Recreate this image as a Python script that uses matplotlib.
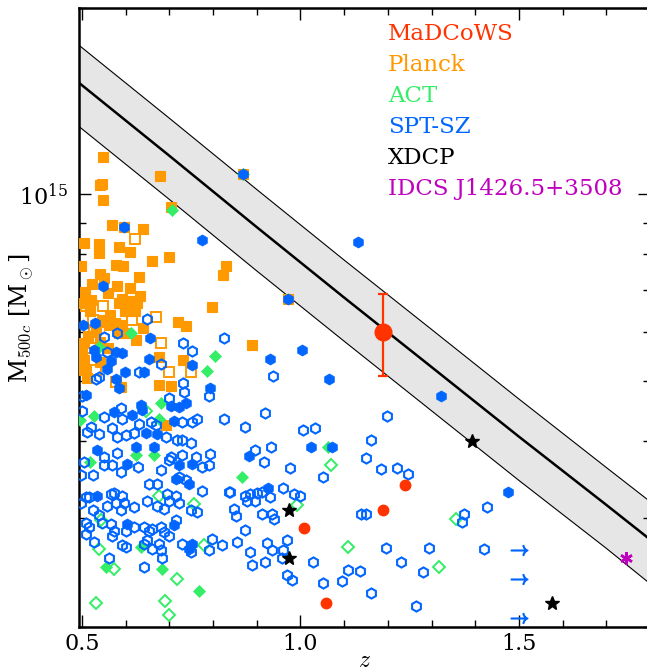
import matplotlib
matplotlib.use("Agg")
import matplotlib.pyplot as plt
from matplotlib.ticker import MultipleLocator, FormatStrFormatter, NullFormatter

plt.rcParams["font.family"] = "DejaVu Serif"
plt.rcParams["mathtext.fontset"] = "cm"

# model curve (most massive expected cluster) and its band, M in 1e14 Msun
model_z = [0.49, 0.7, 0.9, 1.1, 1.3, 1.5, 1.7, 1.8]
model_m = [15.20, 11.54, 8.85, 6.81, 5.26, 4.06, 3.15, 2.77]
model_hi = [17.48, 13.27, 10.18, 7.83, 6.05, 4.67, 3.62, 3.19]
model_lo = [12.92, 9.81, 7.52, 5.79, 4.47, 3.45, 2.68, 2.35]

# Planck (filled / open squares)
planck_z = [0.547, 0.678, 0.545, 0.541, 0.547, 0.703, 0.568, 0.640, 0.505, 0.539,
            0.539, 0.585, 0.610, 0.661, 0.700, 0.577, 0.594, 0.497, 0.829, 0.822,
            0.541, 0.550, 0.631, 0.579, 0.523, 0.507, 0.610, 0.560, 0.633, 0.591,
            0.608, 0.520, 0.505, 0.798, 0.598, 0.621, 0.564, 0.518, 0.557, 0.576,
            0.640, 0.720, 0.738, 0.585, 0.626, 0.550, 0.562, 0.592, 0.585, 0.601,
            0.623, 0.505, 0.501, 0.676, 0.731, 0.505, 0.675, 0.703, 0.589, 0.692,
            0.888, 0.972, 0.596, 0.869, 0.514, 0.532, 0.541, 0.505, 0.511, 0.541,
            0.559]
planck_m = [11.5, 10.7, 10.4, 10.35, 9.79, 9.53, 8.92, 8.80, 8.35, 8.30,
            8.04, 8.22, 8.07, 7.80, 7.91, 7.68, 7.65, 7.65, 7.67, 7.42,
            7.44, 7.33, 7.35, 7.10, 7.17, 6.95, 7.05, 6.93, 6.86, 6.78,
            6.73, 6.76, 6.67, 6.57, 6.47, 6.47, 6.39, 6.47, 6.23, 6.19,
            6.08, 6.23, 6.13, 6.67, 6.67, 6.27, 6.15, 6.16, 5.97, 5.97,
            5.82, 5.75, 5.61, 5.47, 5.40, 5.20, 4.92, 4.90, 4.89, 4.24,
            5.71, 6.78, 8.85, 10.77, 5.90, 6.04, 5.78, 5.40, 5.05, 5.36,
            5.65]
planck_open_z = [0.621, 0.549, 0.614, 0.669, 0.680, 0.520, 0.699, 0.749, 0.531, 0.524,
                 0.527, 0.577, 0.508]
planck_open_m = [8.48, 6.61, 6.26, 6.34, 5.75, 5.64, 5.17, 5.17, 5.20, 6.27,
                 5.99, 4.98, 6.60]

# ACT (filled / open diamonds)
act_z = [0.705, 0.869, 0.611, 0.804, 0.787, 0.539, 0.680, 0.527, 0.676, 0.623,
         0.665, 0.865, 0.634, 0.554, 0.684, 0.768, 1.064, 0.495, 0.518]
act_m = [9.42, 10.77, 5.97, 5.49, 5.19, 5.67, 4.60, 4.39, 4.34, 3.79,
         3.79, 3.50, 2.69, 2.50, 2.48, 2.29, 3.90, 4.32, 3.70]
act_open_z = [0.646, 0.543, 0.539, 0.573, 0.718, 0.531, 0.690, 0.699, 0.676, 0.756,
              0.779, 0.991, 1.069, 1.109, 1.357, 1.318]
act_open_m = [4.46, 2.98, 2.67, 2.48, 2.39, 2.19, 2.20, 2.09, 3.26, 3.16,
              2.71, 3.15, 3.66, 2.69, 2.99, 2.50]

# SPT-SZ (filled / open hexagons)
spt_z = [0.596, 0.774, 1.131, 0.869, 0.972, 0.549, 0.502, 0.530, 0.656, 0.527,
         0.531, 0.577, 0.592, 0.566, 0.653, 0.752, 0.558, 0.598, 0.642, 0.577,
         0.585, 0.792, 0.703, 0.722, 0.737, 0.634, 0.638, 0.573, 0.615, 0.711,
         0.672, 0.646, 0.623, 0.665, 0.535, 0.604, 0.722, 0.752, 0.714, 0.745,
         0.535, 0.604, 0.711, 0.745, 0.930, 1.003, 1.066, 1.025, 1.073, 0.881,
         0.926, 1.321, 1.476, 0.751, 0.508]
spt_m = [8.85, 8.44, 8.36, 10.77, 6.78, 7.12, 6.16, 6.20, 5.87, 5.61,
         5.47, 5.57, 5.54, 5.37, 5.41, 5.30, 5.23, 5.17, 5.17, 5.04,
         4.86, 4.87, 4.55, 4.53, 4.61, 4.57, 4.48, 4.45, 4.40, 4.30,
         4.10, 4.12, 3.90, 3.91, 3.86, 3.67, 3.65, 3.67, 3.47, 3.41,
         3.26, 2.93, 2.92, 2.67, 5.42, 5.60, 5.04, 3.90, 3.91, 3.78,
         3.35, 4.72, 3.31, 2.72, 4.74]
spt_open_z = [0.648, 0.550, 0.581, 0.732, 0.751, 0.825, 0.558, 0.680, 0.630, 0.531,
              0.539, 0.731, 0.733, 0.791, 0.825, 0.699, 0.589, 0.591, 0.550, 0.501,
              0.501, 0.729, 0.752, 0.764, 0.630, 0.657, 0.669, 0.692, 0.600, 0.619,
              0.569, 0.581, 0.520, 0.512, 0.539, 0.718, 0.729, 0.749, 0.550, 0.581,
              0.703, 0.729, 0.760, 0.792, 0.505, 0.524, 0.550, 0.569, 0.589, 0.627,
              0.680, 0.699, 0.775, 0.791, 0.497, 0.653, 0.672, 0.722, 0.737, 0.508,
              0.516, 0.566, 0.573, 0.592, 0.695, 0.714, 0.775, 0.836, 0.497, 0.524,
              0.539, 0.558, 0.577, 0.589, 0.596, 0.619, 0.649, 0.672, 0.688, 0.699,
              0.722, 0.749, 0.764, 0.848, 0.852, 0.508, 0.516, 0.508, 0.546, 0.566,
              0.573, 0.569, 0.600, 0.619, 0.642, 0.653, 0.661, 0.680, 0.688, 0.699,
              0.714, 0.527, 0.592, 0.600, 0.642, 0.649, 0.661, 0.676, 0.680, 0.684,
              0.729, 0.749, 0.791, 0.798, 0.821, 0.855, 0.562, 0.642, 0.938, 0.873,
              0.919, 1.005, 1.033, 0.896, 0.932, 0.917, 0.977, 1.052, 1.199, 1.161,
              1.149, 1.184, 1.220, 1.247, 0.839, 0.873, 0.884, 0.900, 0.911, 0.930,
              0.961, 0.984, 0.999, 0.896, 0.911, 0.934, 0.940, 1.138, 1.149, 0.873,
              0.923, 0.934, 0.968, 0.961, 0.957, 0.884, 0.890, 0.919, 1.029, 0.968,
              0.981, 1.196, 1.230, 1.109, 1.136, 1.096, 1.052, 1.161, 1.264, 1.280,
              1.294, 1.420, 1.427, 1.374, 1.370, 0.877]
spt_open_m = [6.30, 5.88, 5.98, 5.75, 5.59, 5.87, 5.57, 5.32, 5.17, 5.04,
              5.07, 4.95, 4.80, 4.73, 4.34, 4.68, 4.51, 4.34, 4.37, 4.46,
              4.72, 4.29, 4.29, 4.34, 4.26, 4.29, 4.24, 4.06, 4.08, 4.11,
              4.19, 4.05, 4.21, 4.13, 4.10, 4.01, 4.01, 3.96, 3.76, 3.82,
              3.76, 3.79, 3.76, 3.81, 3.70, 3.52, 3.65, 3.65, 3.56, 3.62,
              3.58, 3.72, 3.63, 3.66, 3.52, 3.41, 3.40, 3.50, 3.45, 3.24,
              3.24, 3.28, 3.29, 3.26, 3.28, 3.26, 3.32, 3.30, 3.17, 3.09,
              3.03, 3.14, 3.17, 3.09, 3.17, 3.13, 3.19, 3.14, 3.10, 3.19,
              3.17, 3.09, 3.07, 3.10, 3.02, 2.95, 2.90, 2.83, 2.95, 2.93,
              2.86, 2.81, 2.86, 2.90, 2.90, 2.86, 2.88, 2.90, 2.85, 2.81,
              2.98, 2.74, 2.71, 2.69, 2.72, 2.76, 2.67, 2.72, 2.66, 2.59,
              2.72, 2.64, 2.66, 2.77, 2.71, 2.74, 2.59, 2.50, 5.09, 4.21,
              4.44, 4.16, 4.19, 3.86, 3.90, 3.69, 3.61, 3.49, 4.39, 4.01,
              3.75, 3.60, 3.61, 3.53, 3.30, 3.26, 3.28, 3.29, 3.30, 3.24,
              3.35, 3.28, 3.26, 3.19, 3.04, 3.04, 2.99, 3.04, 3.04, 2.87,
              2.73, 2.66, 2.76, 2.66, 2.59, 2.64, 2.52, 2.55, 2.55, 2.43,
              2.38, 2.68, 2.55, 2.47, 2.46, 2.37, 2.36, 2.27, 2.16, 2.45,
              2.68, 2.67, 3.12, 3.04, 2.96, 3.20]
spt_limit_z = [1.5, 1.5, 1.5]
spt_limit_m = [2.66, 2.39, 2.07]

# MaDCoWS
mad_z = [1.008, 1.189, 1.239, 1.058]
mad_m = [2.89, 3.09, 3.39, 2.19]
mad_big_z = 1.189
mad_big_m = 6.0
mad_big_err = [[0.91], [0.89]]

# XDCP and IDCS
xdcp_z = [0.974, 0.974, 1.392, 1.575]
xdcp_m = [3.09, 2.59, 3.99, 2.19]
idcs_z = [1.745]
idcs_m = [2.59]

c_mad = "#ff3300"
c_planck = "#ff9900"
c_act = "#33ee66"
c_spt = "#0066ff"
c_idcs = "#bf00bf"

def e14(vals):
    return [v * 1e14 for v in vals]

fig = plt.figure(figsize=(6.47, 6.71), dpi=100)
ax = fig.add_axes([79 / 647, 44 / 671, 571 / 647, 619 / 671])

ax.fill_between(model_z, e14(model_lo), e14(model_hi), color="#e6e6e6", lw=0, zorder=1)
ax.plot(model_z, e14(model_hi), color="k", lw=0.8, zorder=2)
ax.plot(model_z, e14(model_lo), color="k", lw=0.8, zorder=2)
ax.plot(model_z, e14(model_m), color="k", lw=1.8, zorder=2)

ax.plot(planck_z, e14(planck_m), ls="none", marker="s", ms=7.8, color=c_planck,
        mec=c_planck, mew=0.8, zorder=3)
ax.plot(planck_open_z, e14(planck_open_m), ls="none", marker="s", ms=7, mfc="none",
        mec=c_planck, mew=1.4, zorder=3)
ax.plot(act_z, e14(act_m), ls="none", marker="D", ms=6.2, color=c_act, mew=0.5, zorder=4)
ax.plot(act_open_z, e14(act_open_m), ls="none", marker="D", ms=6, mfc="none",
        mec=c_act, mew=1.4, zorder=4)
ax.plot(spt_open_z, e14(spt_open_m), ls="none", marker="h", ms=7.3, mfc="none",
        mec=c_spt, mew=1.5, zorder=5)
ax.plot(spt_z, e14(spt_m), ls="none", marker="h", ms=8, color=c_spt, mew=0.5, zorder=5)
ax.plot(spt_limit_z, e14(spt_limit_m), ls="none", marker=r"$\rightarrow$", ms=12,
        color=c_spt, zorder=5)

ax.plot(mad_z, e14(mad_m), ls="none", marker="o", ms=7.5, color=c_mad, zorder=6)
ax.errorbar([mad_big_z], [mad_big_m * 1e14], yerr=[[e * 1e14 for e in mad_big_err[0]],
            [e * 1e14 for e in mad_big_err[1]]], fmt="o", ms=12, color=c_mad,
            elinewidth=1.6, capsize=3.5, capthick=1.6, zorder=6)
ax.plot(xdcp_z, e14(xdcp_m), ls="none", marker="*", ms=10, color="k", zorder=6)
ax.plot(idcs_z, e14(idcs_m), ls="none", marker=(6, 2, 0), ms=9, mew=1.8,
        color=c_idcs, mec=c_idcs, zorder=6)

labels = ["MaDCoWS", "Planck", "ACT", "SPT-SZ", "XDCP", "IDCS J1426.5+3508"]
label_colors = [c_mad, c_planck, c_act, c_spt, "k", c_idcs]
for i, (lab, col) in enumerate(zip(labels, label_colors)):
    ax.text(0.541, 0.9483 - i * 0.04997, lab, color=col, fontsize=16.5,
            transform=ax.transAxes, va="baseline", ha="left")

ax.set_yscale("log")
ax.set_xlim(0.493, 1.8)
ax.set_ylim(2e14, 2e15)
ax.xaxis.set_major_locator(MultipleLocator(0.5))
ax.xaxis.set_minor_locator(MultipleLocator(0.1))
ax.xaxis.set_major_formatter(FormatStrFormatter("%.1f"))
ax.yaxis.set_minor_formatter(NullFormatter())

ax.tick_params(which="both", direction="in", top=True, right=True, width=1, labelsize=16)
ax.tick_params(which="major", length=8.5)
ax.tick_params(which="minor", length=5)
ax.tick_params(axis="x", pad=4)
ax.tick_params(axis="y", pad=8)
for sp in ax.spines.values():
    sp.set_linewidth(1.8)

ax.set_xlabel(r"$z$", fontsize=17)
ax.xaxis.set_label_coords(0.5, -0.036)
ax.set_ylabel(r"M$_{500c}$ [M$_\odot$]", fontsize=17)
ax.yaxis.set_label_coords(-0.075, 0.5)

fig.savefig("out.png", dpi=100)
